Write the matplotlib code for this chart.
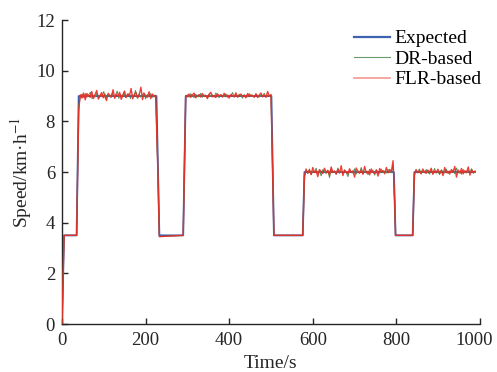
import numpy as np
import matplotlib
matplotlib.use("Agg")
import matplotlib.pyplot as plt
import matplotlib.transforms as mtransforms
from matplotlib.lines import Line2D

plt.rcParams['font.family'] = ['Liberation Serif', 'DejaVu Serif']
plt.rcParams['mathtext.fontset'] = 'stix'

# Expected speed profile (key points)
exp_t = [0, 5, 35, 40, 226, 233, 290, 296, 501, 507, 576, 580, 794, 798, 839, 843, 988]
exp_v = [0, 3.5, 3.5, 9, 9, 3.5, 3.5, 9, 9, 3.5, 3.5, 6, 6, 3.5, 3.5, 6, 6]

# Low-speed / transition parts (time, value) pairs
trans_start_t = [0, 5, 35]
trans_start_v = [0, 3.5, 3.5]
trans_a_t = [229, 233, 290]
trans_a_v = [6.3, 3.45, 3.5]
trans_b_t = [504, 507, 576]
trans_b_v = [6.0, 3.5, 3.5]
trans_c_t = [796, 798, 839]
trans_c_v = [4.8, 3.5, 3.5]

# Plateau spans (start, end)
plateaus = [(40, 224), (296, 500), (580, 792), (843, 988)]

# FLR-based measured speed on plateaus
flr_p1 = [8.45, 9.05, 8.92, 9.12, 8.85, 9.10, 9.02, 8.95, 9.18, 8.90, 9.06, 9.22, 8.88, 9.00, 9.14, 8.93,
          9.08, 8.82, 9.11, 9.03, 8.96, 9.25, 8.91, 9.07, 8.98, 9.15, 8.87, 9.04, 9.20, 8.94, 9.09, 8.99,
          9.30, 8.89, 9.06, 9.13, 8.92, 9.05, 9.35, 8.86, 9.10, 9.01, 8.95, 9.17, 8.90, 9.08, 8.97, 9.03]
flr_p2 = [9.02, 8.97, 9.08, 8.95, 9.04, 9.12, 8.93, 9.01, 9.06, 8.96, 9.10, 8.99, 9.03, 8.90, 9.07, 9.15,
          8.97, 9.02, 8.94, 9.09, 9.00, 9.05, 8.96, 9.11, 8.98, 9.04, 8.92, 9.06, 9.01, 8.97, 9.13, 8.95,
          9.03, 9.08, 8.99, 9.02, 8.93, 9.10, 8.98, 9.05, 9.00, 8.96, 9.09, 8.94, 9.04, 9.12, 8.97, 9.03,
          8.95, 9.18, 8.99, 9.06]
flr_p3 = [5.85, 6.12, 5.95, 6.08, 5.90, 6.18, 5.98, 6.05, 5.82, 6.10, 6.02, 5.94, 6.15, 5.97, 6.06, 5.88,
          6.20, 5.99, 6.04, 5.92, 6.11, 5.96, 6.25, 5.86, 6.07, 6.00, 5.93, 6.13, 5.98, 6.05, 5.80, 6.16,
          6.01, 5.95, 6.09, 5.91, 6.22, 5.97, 6.03, 5.89, 6.12, 6.00, 5.94, 6.08, 5.84, 6.14, 5.99, 6.06,
          5.93, 6.18, 5.97, 6.10, 6.02, 6.45]
flr_p4 = [5.90, 6.10, 5.97, 6.05, 5.93, 6.12, 6.00, 5.95, 6.08, 5.98, 6.15, 5.91, 6.04, 5.99, 6.11, 5.94,
          6.06, 5.86, 6.18, 5.97, 6.03, 5.92, 6.10, 5.99, 6.22, 5.80, 6.08, 5.96, 6.14, 5.93, 6.05, 6.00,
          6.20, 5.88, 6.09, 5.97, 6.04]

# DR-based measured speed on plateaus
dr_p1 = [8.60, 8.98, 9.08, 8.94, 9.10, 8.96, 9.04, 9.15, 8.90, 9.02, 8.97, 9.12, 8.93, 9.06, 8.99, 9.18,
         8.88, 9.05, 9.01, 8.95, 9.11, 8.97, 9.03, 9.20, 8.91, 9.07, 8.98, 9.14, 8.94, 9.02, 9.09, 8.90,
         9.05, 9.00, 9.22, 8.93, 9.08, 8.96, 9.03, 9.13, 8.89, 9.06, 8.99, 9.10, 8.95, 9.04, 9.00]
dr_p2 = [8.98, 9.05, 8.96, 9.09, 9.01, 8.94, 9.07, 9.00, 8.97, 9.11, 8.95, 9.04, 9.02, 8.93, 9.08, 8.99,
         9.05, 8.96, 9.12, 9.00, 8.94, 9.06, 9.01, 8.97, 9.09, 8.95, 9.03, 9.00, 9.14, 8.96, 9.05, 8.98,
         9.07, 9.01, 8.92, 9.06, 9.00, 8.97, 9.10, 8.99, 9.04, 8.95, 9.08, 9.02, 8.96, 9.05, 9.00, 9.11,
         8.97, 9.03, 9.00, 9.04]
dr_p3 = [5.80, 6.05, 5.96, 6.12, 5.90, 6.03, 5.99, 6.15, 5.93, 6.06, 5.85, 6.10, 6.00, 5.95, 6.08, 5.78,
         6.12, 5.97, 6.04, 5.91, 6.16, 5.98, 6.02, 5.94, 6.09, 5.99, 5.82, 6.07, 6.01, 5.96, 6.13, 5.92,
         6.05, 5.99, 6.18, 5.94, 6.03, 6.00, 5.90, 6.11, 5.97, 6.06, 5.88, 6.09, 6.01, 5.95, 6.12, 5.98,
         6.04, 5.96, 6.10, 6.00, 5.97, 6.30]
dr_p4 = [5.88, 6.06, 5.99, 6.12, 5.94, 6.03, 5.97, 6.10, 6.00, 5.92, 6.07, 5.98, 6.14, 5.95, 6.02, 5.90,
         6.09, 6.01, 5.96, 6.12, 5.94, 6.05, 5.99, 6.08, 5.93, 6.16, 5.97, 6.03, 5.91, 6.10, 6.00, 5.96,
         6.07, 5.98, 6.13, 5.95, 6.02]

labels = ['Expected', 'DR-based', 'FLR-based']
x_ticks = [0, 200, 400, 600, 800, 1000]
y_ticks = [0, 2, 4, 6, 8, 10, 12]


def build(p1, p2, p3, p4):
    pieces_t = [np.array(trans_start_t, float)]
    pieces_v = [np.array(trans_start_v, float)]
    trans = [(trans_a_t, trans_a_v), (trans_b_t, trans_b_v), (trans_c_t, trans_c_v), None]
    for (s, e), vals, tr in zip(plateaus, [p1, p2, p3, p4], trans):
        pieces_t.append(np.linspace(s, e, len(vals)))
        pieces_v.append(np.array(vals, float))
        if tr is not None:
            pieces_t.append(np.array(tr[0], float))
            pieces_v.append(np.array(tr[1], float))
    return np.concatenate(pieces_t), np.concatenate(pieces_v)


dr_t, dr_v = build(dr_p1, dr_p2, dr_p3, dr_p4)
flr_t, flr_v = build(flr_p1, flr_p2, flr_p3, flr_p4)

fig = plt.figure(figsize=(4.97, 3.72), dpi=100)
ax = fig.add_axes([0.1247, 0.129, 0.8411, 0.817])

c_exp = '#3a58a8'
c_dr = '#4f8f4f'
c_flr = '#ee2a24'
txt = '#262626'

ax.plot(exp_t, exp_v, color=c_exp, lw=1.3, zorder=2)
ax.plot(dr_t, dr_v, color=c_dr, lw=0.7, zorder=3)
ax.plot(flr_t, flr_v, color=c_flr, lw=1.0, alpha=0.9, zorder=4)

ax.set_xlim(0, 1000)
ax.set_ylim(0, 12)
ax.set_xticks(x_ticks)
ax.set_yticks(y_ticks)
for s in ['top', 'right']:
    ax.spines[s].set_visible(False)
for s in ['left', 'bottom']:
    ax.spines[s].set_linewidth(1.0)
    ax.spines[s].set_color(txt)
ax.tick_params(direction='in', length=4, width=1.0, labelsize=13.5, colors=txt)
ax.tick_params(axis='x', pad=6)
ax.tick_params(axis='y', pad=5)
ax.set_xlabel('Time/s', fontsize=14, labelpad=4, color=txt)
ax.set_ylabel('Speed/km·h$^{-1}$', fontsize=14, labelpad=2, color=txt)

# nudge the last x tick label slightly so it stays inside the canvas
last = ax.get_xticklabels()[-1]
last.set_transform(last.get_transform() + mtransforms.ScaledTranslation(-4 / 72, 0, fig.dpi_scale_trans))

handles = [Line2D([], [], color='#3f62b0', lw=1.6),
           Line2D([], [], color='#6a9c6a', lw=0.8),
           Line2D([], [], color='#f4a096', lw=1.3)]
ax.legend(handles, labels, loc='upper right', bbox_to_anchor=(1.003, 0.968), frameon=False,
          fontsize=14, handlelength=1.85, handletextpad=0.2, labelspacing=0.15,
          borderaxespad=0.0, borderpad=0.0)

fig.savefig('out.png', dpi=100)
